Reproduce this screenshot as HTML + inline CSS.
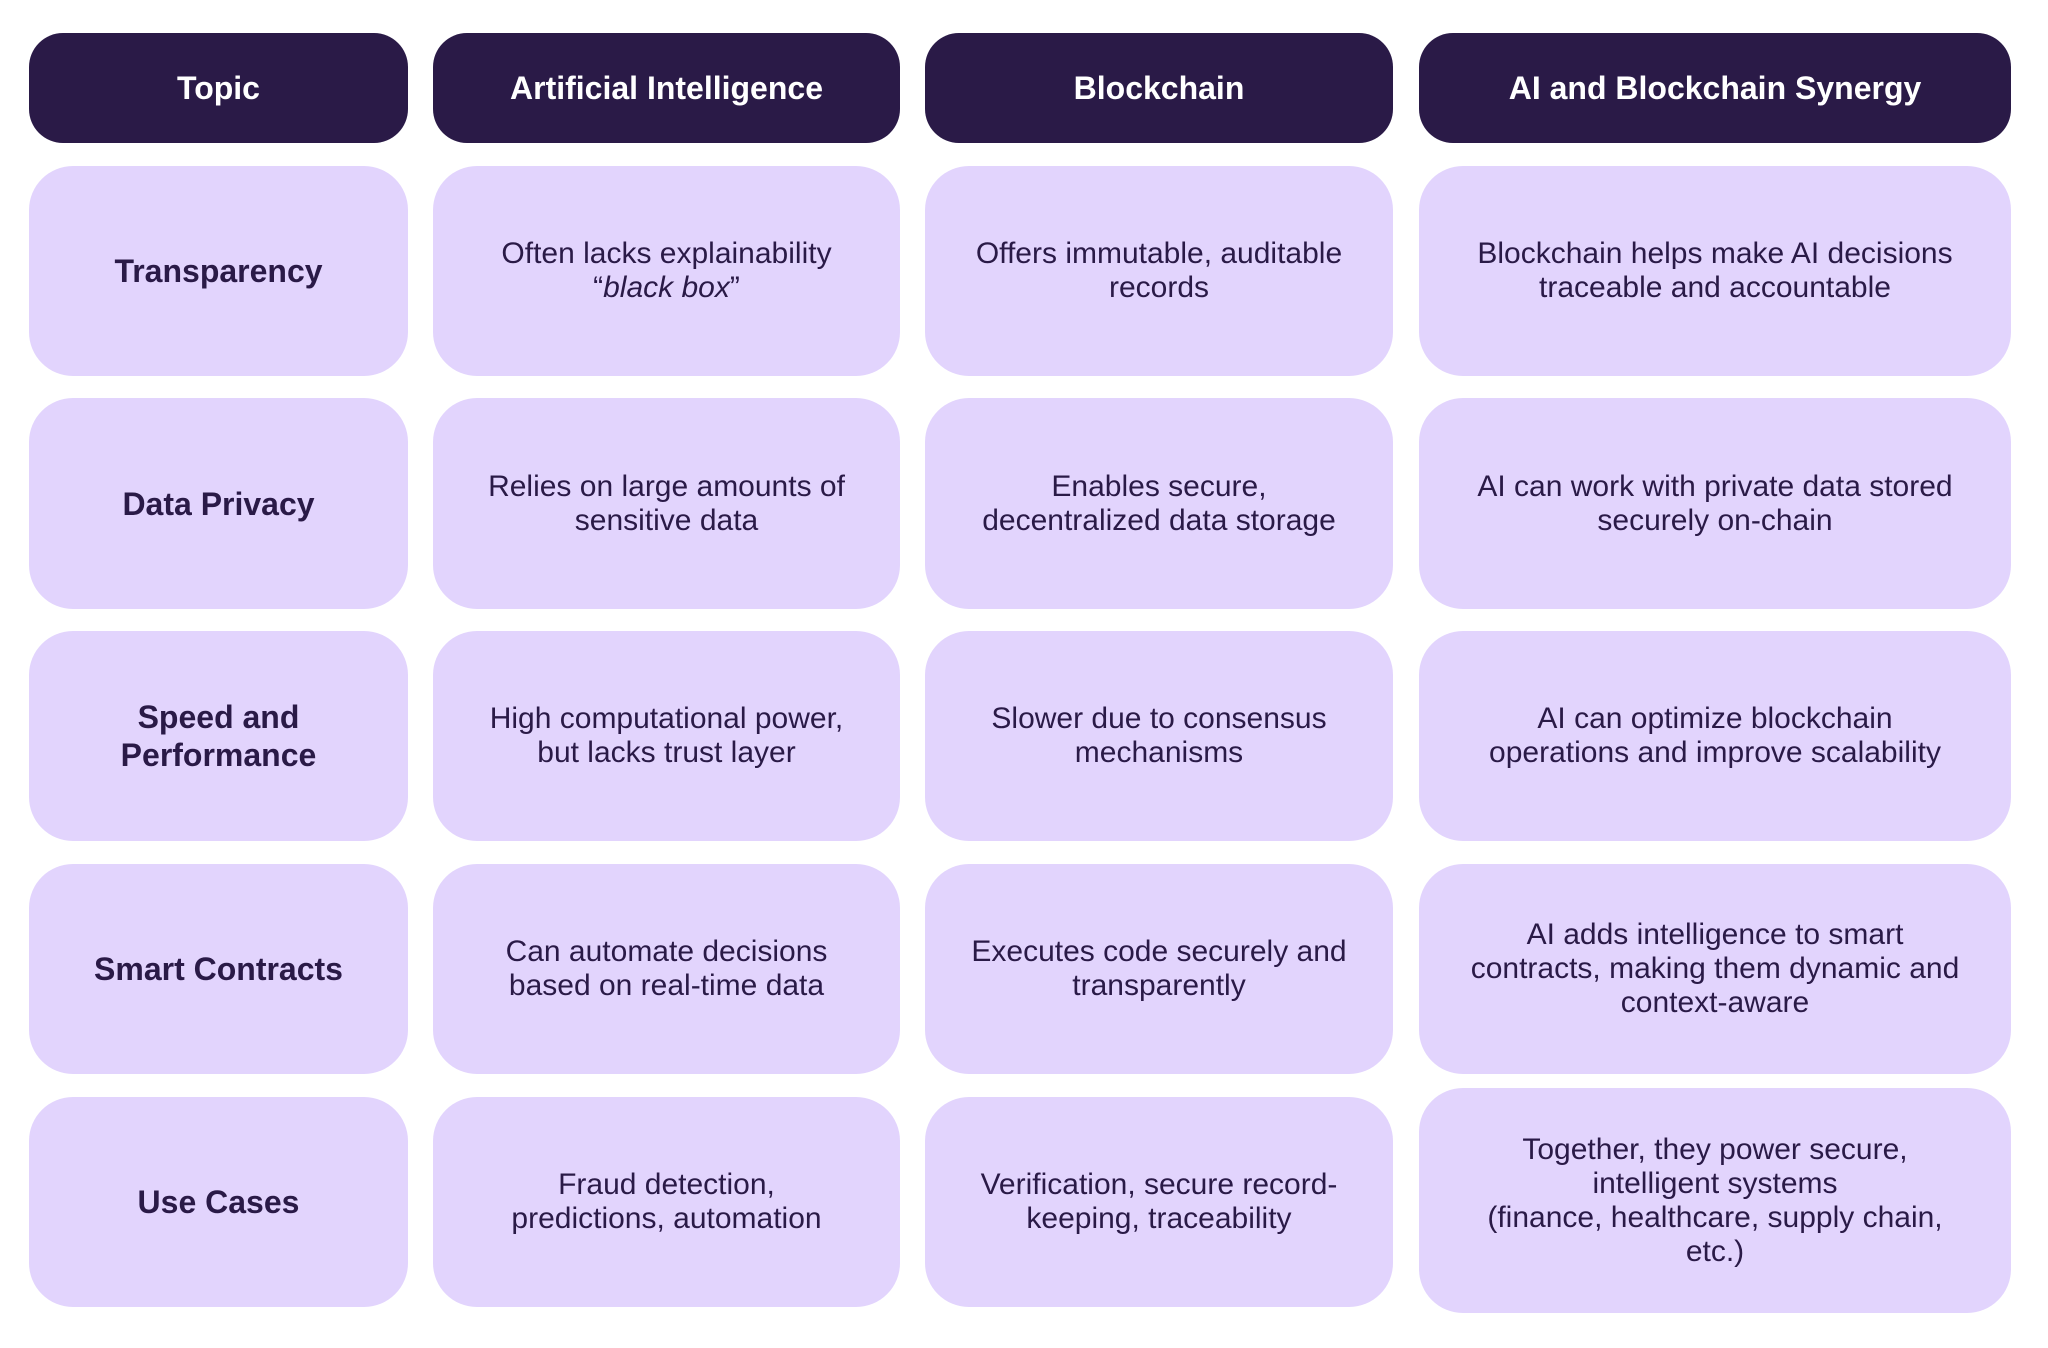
<!DOCTYPE html>
<html>
<head>
<meta charset="utf-8">
<style>
  html,body{margin:0;padding:0;background:#ffffff;}
  body{width:2048px;height:1348px;position:relative;overflow:hidden;font-family:"Liberation Sans",Arial,sans-serif;}
  .b{position:absolute;display:flex;align-items:center;justify-content:center;text-align:center;box-sizing:border-box;}
  .h{background:#2a1a47;color:#ffffff;border-radius:34px;font-weight:bold;font-size:32px;top:33px;height:110px;}
  .c{background:#e2d4fd;color:#2a1a47;border-radius:44px;font-size:30px;line-height:34px;}
  .l{font-weight:bold;font-size:32px;line-height:38px;}
  .c1{left:29px;width:379px;}
  .c2{left:433px;width:467px;}
  .c3{left:925px;width:468px;}
  .c4{left:1419px;width:592px;}
  .r1{top:166px;height:210px;}
  .r2{top:398px;height:211px;}
  .r3{top:631px;height:210px;}
  .r4{top:864px;height:210px;}
  .r5{top:1097px;height:210px;}
</style>
</head>
<body>
  <div class="b h c1">Topic</div>
  <div class="b h c2">Artificial Intelligence</div>
  <div class="b h c3">Blockchain</div>
  <div class="b h c4">AI and Blockchain Synergy</div>

  <div class="b c l c1 r1">Transparency</div>
  <div class="b c c2 r1"><div>Often lacks explainability<br>“<i>black box</i>”</div></div>
  <div class="b c c3 r1"><div>Offers immutable, auditable<br>records</div></div>
  <div class="b c c4 r1"><div>Blockchain helps make AI decisions<br>traceable and accountable</div></div>

  <div class="b c l c1 r2">Data Privacy</div>
  <div class="b c c2 r2"><div>Relies on large amounts of<br>sensitive data</div></div>
  <div class="b c c3 r2"><div>Enables secure,<br>decentralized data storage</div></div>
  <div class="b c c4 r2"><div>AI can work with private data stored<br>securely on-chain</div></div>

  <div class="b c l c1 r3"><div>Speed and<br>Performance</div></div>
  <div class="b c c2 r3"><div>High computational power,<br>but lacks trust layer</div></div>
  <div class="b c c3 r3"><div>Slower due to consensus<br>mechanisms</div></div>
  <div class="b c c4 r3"><div>AI can optimize blockchain<br>operations and improve scalability</div></div>

  <div class="b c l c1 r4">Smart Contracts</div>
  <div class="b c c2 r4"><div>Can automate decisions<br>based on real-time data</div></div>
  <div class="b c c3 r4"><div>Executes code securely and<br>transparently</div></div>
  <div class="b c c4 r4"><div>AI adds intelligence to smart<br>contracts, making them dynamic and<br>context-aware</div></div>

  <div class="b c l c1 r5">Use Cases</div>
  <div class="b c c2 r5"><div>Fraud detection,<br>predictions, automation</div></div>
  <div class="b c c3 r5"><div>Verification, secure record-<br>keeping, traceability</div></div>
  <div class="b c c4" style="top:1088px;height:225px;"><div>Together, they power secure,<br>intelligent systems<br>(finance, healthcare, supply chain,<br>etc.)</div></div>
</body>
</html>
